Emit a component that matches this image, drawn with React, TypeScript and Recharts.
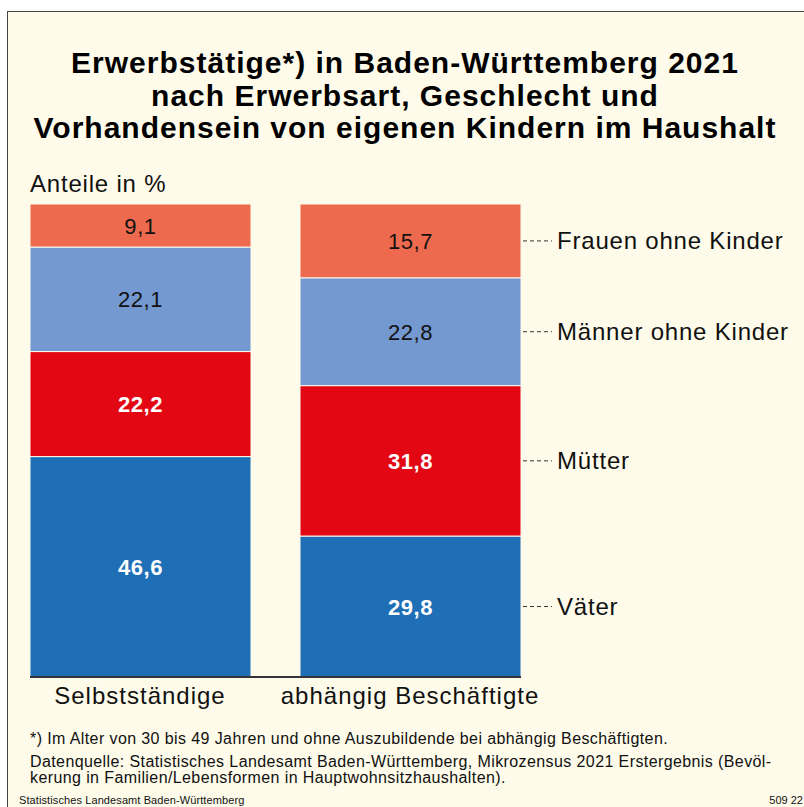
import { Bar, BarChart, LabelList, XAxis, YAxis } from "recharts";

const categories = ["Selbstständige", "abhängig Beschäftigte"];
const vaeter = [46.6, 29.8];
const muetter = [22.2, 31.8];
const maennerOhneKinder = [22.1, 22.8];
const frauenOhneKinder = [9.1, 15.7];

const titleLines = [
  "Erwerbstätige*) in Baden-Württemberg 2021",
  "nach Erwerbsart, Geschlecht und",
  "Vorhandensein von eigenen Kindern im Haushalt",
];

const data = categories.map((name, i) => ({
  name,
  vaeter: vaeter[i],
  muetter: muetter[i],
  maenner: maennerOhneKinder[i],
  frauen: frauenOhneKinder[i],
}));

const FONT = '"Liberation Sans", Arial, Helvetica, sans-serif';
const BG = "#fefbea";

const fmt = (v: number) => v.toFixed(1).replace(".", ",");

// value inside the segment + for the right bar a dashed leader to the series name
function segmentLabel(seriesName: string, light: boolean) {
  return (props: any) => {
    const { x, y, width, height, index, value } = props;
    const cx = Number(x) + Number(width) / 2;
    const cy = Number(y) + Number(height) / 2;
    const right = Number(x) + Number(width);
    return (
      <g>
        <text
          x={cx}
          y={cy}
          dy={8}
          textAnchor="middle"
          fontFamily={FONT}
          fontSize={22}
          letterSpacing={0.6}
          fontWeight={light ? 700 : 400}
          fill={light ? "#ffffff" : "#111111"}
        >
          {fmt(Number(value))}
        </text>
        {index === 1 && (
          <g>
            <line
              x1={right + 2}
              x2={right + 31}
              y1={cy}
              y2={cy}
              stroke="#333"
              strokeWidth={1}
              strokeDasharray="4 3"
            />
            <text
              x={right + 36}
              y={cy}
              dy={8}
              fontFamily={FONT}
              fontSize={24}
              letterSpacing={0.8}
              fill="#111111"
            >
              {seriesName}
            </text>
          </g>
        )}
      </g>
    );
  };
}

function CategoryTick(props: any) {
  const { x, y, payload } = props;
  return (
    <text
      x={x}
      y={y}
      dy={27}
      textAnchor="middle"
      fontFamily={FONT}
      fontSize={24}
      letterSpacing={1}
      fill="#111111"
    >
      {payload.value}
    </text>
  );
}

export default function App() {
  return (
    <div
      style={{
        position: "absolute",
        left: 0,
        top: 0,
        width: 804,
        height: 807,
        background: "#ffffff",
        overflow: "hidden",
      }}
    >
      <div
        style={{
          position: "absolute",
          left: 7,
          top: 11,
          width: 820,
          height: 820,
          background: BG,
          borderLeft: "1.5px solid #444",
          borderTop: "1.5px solid #444",
        }}
      />
      <div style={{ position: "absolute", left: 0, top: 0 }}>
        <BarChart
          width={804}
          height={807}
          data={data}
          margin={{ top: 204, right: 283, bottom: 100, left: 30 }}
        >
          <XAxis
            dataKey="name"
            height={30}
            tickLine={false}
            tickSize={0}
            tickMargin={0}
            axisLine={{ stroke: "#333", strokeWidth: 2 }}
            padding={{ left: -25, right: -24 }}
            tick={<CategoryTick />}
            interval={0}
          />
          <YAxis hide domain={[0, 100]} allowDataOverflow />
          <Bar dataKey="vaeter" stackId="a" fill="#1f6fb6" stroke={BG} strokeWidth={1} barSize={221} isAnimationActive={false}>
            <LabelList dataKey="vaeter" content={segmentLabel("Väter", true)} />
          </Bar>
          <Bar dataKey="muetter" stackId="a" fill="#e30613" stroke={BG} strokeWidth={1} barSize={221} isAnimationActive={false}>
            <LabelList dataKey="muetter" content={segmentLabel("Mütter", true)} />
          </Bar>
          <Bar dataKey="maenner" stackId="a" fill="#7498d0" stroke={BG} strokeWidth={1} barSize={221} isAnimationActive={false}>
            <LabelList dataKey="maenner" content={segmentLabel("Männer ohne Kinder", false)} />
          </Bar>
          <Bar dataKey="frauen" stackId="a" fill="#ee6a4e" stroke={BG} strokeWidth={1} barSize={221} isAnimationActive={false}>
            <LabelList dataKey="frauen" content={segmentLabel("Frauen ohne Kinder", false)} />
          </Bar>
        </BarChart>
      </div>
      <svg
        width={804}
        height={807}
        style={{ position: "absolute", left: 0, top: 0, pointerEvents: "none" }}
      >
        <g fontFamily={FONT} fill="#000">
          {titleLines.map((t, i) => (
            <text
              key={i}
              x={405}
              y={73 + i * 32.5}
              textAnchor="middle"
              fontSize={30}
              fontWeight={700}
              letterSpacing={1}
            >
              {t}
            </text>
          ))}
          <text x={30} y={192} fontSize={24} letterSpacing={0.8} fill="#111">
            Anteile in %
          </text>
          <text x={30} y={744} fontSize={16} letterSpacing={0.4} fill="#111">
            *) Im Alter von 30 bis 49 Jahren und ohne Auszubildende bei abhängig Beschäftigten.
          </text>
          <text x={30} y={767} fontSize={16} letterSpacing={0.4} fill="#111">
            Datenquelle: Statistisches Landesamt Baden-Württemberg, Mikrozensus 2021 Erstergebnis (Bevöl-
          </text>
          <text x={30} y={783} fontSize={16} letterSpacing={0.4} fill="#111">
            kerung in Familien/Lebensformen in Hauptwohnsitzhaushalten).
          </text>
          <text x={19} y={804} fontSize={11} letterSpacing={0.1} fill="#111">
            Statistisches Landesamt Baden-Württemberg
          </text>
          <text x={803} y={804} fontSize={11} fill="#111" textAnchor="end">
            509 22
          </text>
        </g>
      </svg>
    </div>
  );
}
